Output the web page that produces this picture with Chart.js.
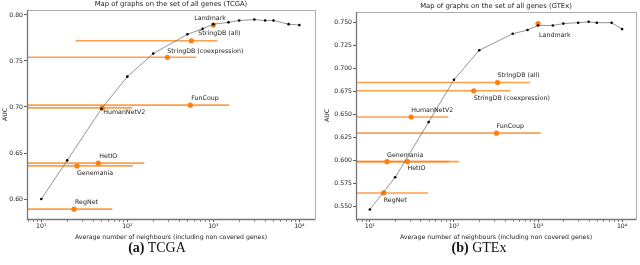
<!DOCTYPE html>
<html>
<head>
<meta charset="utf-8">
<title>Map of graphs on the set of all genes</title>
<script src="https://cdn.jsdelivr.net/npm/chart.js"></script>
<style>
  body { margin: 0; background: #fff; }
  #wrap { position: relative; width: 640px; height: 265px; overflow: hidden; }
  .panel { position: absolute; top: 0; width: 320px; height: 265px; }
  .cap { position: absolute; top: 240px; width: 200px; text-align: center;
         font: 14px "Liberation Serif", "DejaVu Serif", serif; line-height: 16px; color: #111; }
</style>
</head>
<body>
<div id="wrap">
  <div class="panel" style="left:0"><canvas id="tcga" width="320" height="265"></canvas></div>
  <div class="panel" style="left:320px"><canvas id="gtex" width="320" height="265"></canvas></div>
  <div class="cap" style="left:57px"><b>(a)</b> TCGA</div>
  <div class="cap" style="left:379px"><b>(b)</b> GTEx</div>
</div>
<script>
// neighbourhood sizes of the kNN curve (shared by both panels)
const curveX = [10, 20, 50, 100, 200, 500, 750, 1000, 1500, 2000, 3000, 4000, 5000, 7500, 10000];
const tcgaCurveY = [0.600, 0.642, 0.698, 0.733, 0.758, 0.779, 0.785, 0.790, 0.792, 0.794, 0.795, 0.794, 0.794, 0.790, 0.789];
const gtexCurveY = [0.547, 0.582, 0.642, 0.688, 0.720, 0.738, 0.742, 0.747, 0.747, 0.749, 0.750, 0.751, 0.750, 0.750, 0.743];

// networks: mean number of neighbours, AUC, and range of neighbours
const tcgaNames = ['Landmark', 'StringDB (all)', 'StringDB (coexpression)', 'FunCoup', 'HumanNetV2', 'HetIO', 'Genemania', 'RegNet'];
const tcgaX = [1000, 555, 292, 540, 51, 46, 26, 24];
const tcgaY = [0.789, 0.772, 0.754, 0.702, 0.699, 0.639, 0.636, 0.589];
const tcgaLo = [1000, 25, 1, 1, 1, 1, 1, 1];
const tcgaHi = [1000, 1115, 634, 1530, 114, 158, 116, 67];

const gtexNames = ['Landmark', 'StringDB (all)', 'StringDB (coexpression)', 'FunCoup', 'HumanNetV2', 'HetIO', 'Genemania', 'RegNet'];
const gtexX = [1000, 330, 172, 320, 31, 28, 16, 14.6];
const gtexY = [0.749, 0.685, 0.676, 0.630, 0.6475, 0.599, 0.599, 0.565];
const gtexLo = [1000, 1, 1, 1, 1, 1, 1, 1];
const gtexHi = [1000, 806, 469, 1076, 86, 115, 87, 49];

// tick labels
const tcgaYTicks = [0.60, 0.65, 0.70, 0.75, 0.80];
const gtexYTicks = [0.550, 0.575, 0.600, 0.625, 0.650, 0.675, 0.700, 0.725, 0.750];
const xTickLabels = { 10: '10\u00b9', 100: '10\u00b2', 1000: '10\u00b3', 10000: '10\u2074' };

const FONT = 'DejaVu Sans';
const TEXT = '#222';
const ORANGE = '#ff7f0e';

function makeChart(id, cfg) {
  const datasets = [{
    data: curveX.map((x, i) => ({ x, y: cfg.curveY[i] })),
    showLine: true, borderColor: '#666', borderWidth: 0.7,
    pointRadius: 1.3, pointBackgroundColor: '#000', pointBorderWidth: 0
  }, {
    data: cfg.x.map((x, i) => ({ x, y: cfg.y[i] })),
    showLine: false, pointRadius: 2.6, pointBackgroundColor: ORANGE, pointBorderWidth: 0
  }];
  cfg.lo.forEach((lo, i) => datasets.push({
    data: [{ x: lo, y: cfg.y[i] }, { x: cfg.hi[i], y: cfg.y[i] }],
    showLine: true, borderColor: 'rgba(255,127,14,0.75)', borderWidth: 1.6,
    pointRadius: 0, clip: 0
  }));

  const deco = {
    id: 'deco',
    afterDatasetsDraw(chart) {
      const { ctx } = chart;
      const xs = chart.scales.x, ys = chart.scales.y;
      ctx.save();
      ctx.font = '6.3px "' + FONT + '"';
      ctx.fillStyle = TEXT;
      ctx.textAlign = 'left';
      ctx.textBaseline = 'middle';
      cfg.names.forEach((name, i) => {
        const px = xs.getPixelForValue(cfg.x[i]);
        const py = ys.getPixelForValue(cfg.y[i]);
        ctx.fillText(name, px + cfg.labelDx[i], py + cfg.labelDy[i]);
      });
      ctx.restore();
    },
    afterDraw(chart) {
      const { ctx, chartArea: a } = chart;
      const xs = chart.scales.x;
      ctx.save();
      ctx.strokeStyle = '#999';
      ctx.lineWidth = 0.8;
      ctx.strokeRect(a.left + 0.5, a.top + 0.5, a.right - a.left, a.bottom - a.top);
      ctx.strokeStyle = '#777';
      ctx.lineWidth = 1.3;
      ctx.beginPath();
      ctx.moveTo(a.left + 0.5, a.top);
      ctx.lineTo(a.left + 0.5, a.bottom + 0.5);
      ctx.lineTo(a.right, a.bottom + 0.5);
      ctx.stroke();
      // minor ticks of the log axis
      ctx.strokeStyle = '#444';
      ctx.lineWidth = 0.6;
      ctx.beginPath();
      xs.ticks.forEach(t => {
        if (t.major) return;
        const px = Math.round(xs.getPixelForValue(t.value)) + 0.5;
        ctx.moveTo(px, a.bottom + 1);
        ctx.lineTo(px, a.bottom + 3);
      });
      ctx.stroke();
      ctx.font = '6.8px "' + FONT + '"';
      ctx.fillStyle = TEXT;
      ctx.textAlign = 'center';
      ctx.textBaseline = 'middle';
      ctx.fillText(cfg.title, (a.left + a.right) / 2, cfg.titleY);
      ctx.restore();
    }
  };

  return new Chart(document.getElementById(id), {
    type: 'scatter',
    data: { datasets },
    options: {
      responsive: false,
      animation: false,
      events: [],
      layout: { padding: { left: 0, right: cfg.padRight, top: cfg.padTop, bottom: 24 } },
      plugins: { legend: { display: false }, tooltip: { enabled: false }, title: { display: false } },
      scales: {
        x: {
          type: 'logarithmic', min: cfg.xMin, max: cfg.xMax,
          afterBuildTicks(s) {
            const ticks = [];
            for (let e = 0; e <= 4; e++) {
              for (let m = 1; m < 10; m++) {
                const v = m * Math.pow(10, e);
                if (v >= s.min && v <= s.max) ticks.push({ value: v, major: m === 1 });
              }
            }
            s.ticks = ticks;
          },
          afterFit(s) { s.height = 22; },
          ticks: {
            autoSkip: false, maxRotation: 0, padding: 1,
            callback: v => xTickLabels[v] || '',
            font: { family: FONT, size: 6.2 }, color: TEXT
          },
          grid: {
            drawOnChartArea: false, drawTicks: true, tickLength: 3, tickWidth: 0.8,
            tickColor: c => (c.tick && c.tick.major) ? '#333' : 'rgba(0,0,0,0)'
          },
          border: { display: false },
          title: {
            display: true, text: 'Average number of neighbours (including non covered genes)',
            font: { family: FONT, size: 6.2 }, color: TEXT, padding: { top: 0, bottom: 0 }
          }
        },
        y: {
          type: 'linear', min: cfg.yMin, max: cfg.yMax,
          afterBuildTicks(s) { s.ticks = cfg.yTicks.map(v => ({ value: v })); },
          afterFit(s) { s.width = cfg.yWidth; },
          ticks: {
            padding: 1, callback: v => v.toFixed(cfg.dec),
            font: { family: FONT, size: 6.2 }, color: TEXT
          },
          grid: { drawOnChartArea: false, drawTicks: true, tickLength: 3, tickWidth: 0.8, tickColor: '#333' },
          border: { display: false },
          title: {
            display: true, text: 'AUC', font: { family: FONT, size: 6.2 }, color: TEXT,
            padding: { top: cfg.yTitlePad, bottom: 0 }
          }
        }
      }
    },
    plugins: [deco]
  });
}

makeChart('tcga', {
  title: 'Map of graphs on the set of all genes (TCGA)', titleY: 4,
  curveY: tcgaCurveY, names: tcgaNames, x: tcgaX, y: tcgaY, lo: tcgaLo, hi: tcgaHi,
  labelDx: [-19, 7, 0, 1, 1, 1, 0, 1],
  labelDy: [-7, -7, -6, -6.5, 4.5, -7, 7, -6.5],
  yTicks: tcgaYTicks, dec: 2, yMin: 0.5783, yMax: 0.8054,
  xMin: 6.82, xMax: 15200,
  padTop: 10, padRight: 5, yWidth: 27, yTitlePad: 2.1
});

makeChart('gtex', {
  title: 'Map of graphs on the set of all genes (GTEx)', titleY: 6,
  curveY: gtexCurveY, names: gtexNames, x: gtexX, y: gtexY, lo: gtexLo, hi: gtexHi,
  labelDx: [1, 0, 0, 0, 0, 0, 0, 0],
  labelDy: [11.7, -7.4, 7.7, -6.6, -7, 6.7, -6.7, 7.4],
  yTicks: gtexYTicks, dec: 3, yMin: 0.5367, yMax: 0.7616,
  xMin: 6.84, xMax: 14630,
  padTop: 12, padRight: 2, yWidth: 36, yTitlePad: 3.8
});
</script>
</body>
</html>
